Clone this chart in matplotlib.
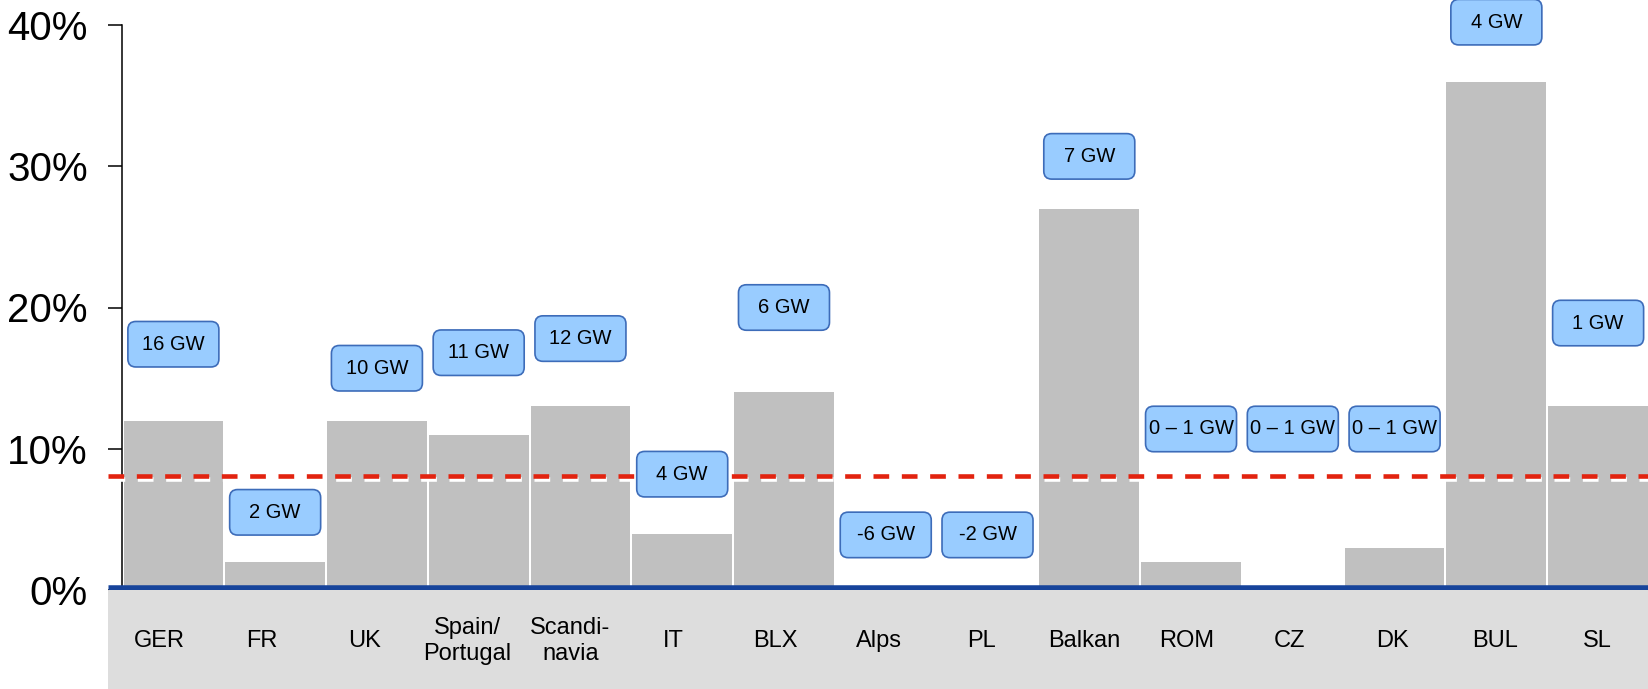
import numpy as np
import matplotlib
matplotlib.use("Agg")
import matplotlib.pyplot as plt
from matplotlib.patches import FancyBboxPatch, Rectangle
import matplotlib.patheffects as pe

plt.rcParams['font.family'] = ['Liberation Sans', 'DejaVu Sans']
plt.rcParams['lines.scale_dashes'] = False

# data
regions = ['GER', 'FR', 'UK', 'Spain/\nPortugal', 'Scandi-\nnavia', 'IT', 'BLX',
           'Alps', 'PL', 'Balkan', 'ROM', 'CZ', 'DK', 'BUL', 'SL']
share = [12, 2, 12, 11, 13, 4, 14, 0, 0, 27, 2, 0, 3, 36, 13]   # %
capacity = ['16 GW', '2 GW', '10 GW', '11 GW', '12 GW', '4 GW', '6 GW', '-6 GW',
            '-2 GW', '7 GW', '0 – 1 GW', '0 – 1 GW', '0 – 1 GW', '4 GW', '1 GW']
average = 8.1   # %

# where the capacity boxes sit (in % on the y scale)
box_y = [17.4, 5.5, 15.7, 16.8, 17.8, 8.2, 20.0, 3.9, 3.9, 30.7, 11.4, 11.4, 11.4, 40.2, 18.9]

W, H = 1649, 689
fig = plt.figure(figsize=(W / 100, H / 100), dpi=100)

ax_left, ax_bot, ax_top = 122.5, 590, 25          # pixels
ax = fig.add_axes([ax_left / W, (H - ax_bot) / H, 1 - ax_left / W, (ax_bot - ax_top) / H])
strip_left = 108
strip = fig.add_axes([strip_left / W, 0, 1 - strip_left / W, (H - ax_bot) / H])
strip.set_facecolor('#DDDDDD')
strip.set_xlim(-0.5, 14.5)
strip.set_ylim(0, 1)
strip.axis('off')
strip.add_patch(Rectangle((0, 0), 1, 1, transform=strip.transAxes, color='#DDDDDD', zorder=0))

x = np.arange(len(regions))
ax.bar(x, share, width=0.98, color='#C0C0C0', edgecolor='none', zorder=1)
ax.set_xlim(-0.5, 14.5)
ax.set_ylim(0, 40)

ax.spines[['top', 'right', 'bottom']].set_visible(False)
ax.spines['left'].set_linewidth(1.1)
ax.set_xticks([])
ax.set_yticks([0, 10, 20, 30, 40])
ax.set_yticklabels([f'{v}%' for v in [0, 10, 20, 30, 40]], fontsize=29)
ax.tick_params(axis='y', direction='out', length=10, width=1.1, pad=15)

# left end of the strip in data units of the main axes
px_per_x = (W - ax_left) / 15
x0 = -0.5 - (ax_left - strip_left) / px_per_x
px_per_y = (ax_bot - ax_top) / 40

# average line with a white shadow under the dashes
ax.plot([x0, 14.5], [average, average], color='#E2230F', lw=3.3, dashes=(11.3, 9.1),
        clip_on=False, zorder=3,
        path_effects=[pe.SimpleLineShadow(offset=(1, -2.2), shadow_color='white', alpha=1),
                      pe.Normal()])

# baseline
ax.plot([x0, 14.5], [2.5 / px_per_y] * 2, color='#17449B', lw=4.7, clip_on=False,
        solid_capstyle='butt', zorder=4)

# capacity boxes
bw = 91 / px_per_x
bh = 45.5 / px_per_y
r = 8 / px_per_x
for xi, yi, lab in zip(x, box_y, capacity):
    box = FancyBboxPatch((xi - bw / 2, yi - bh / 2), bw, bh,
                         boxstyle=f'round,pad=0,rounding_size={r}',
                         mutation_aspect=(8 / px_per_y) / r,
                         facecolor='#99CCFF', edgecolor='#3D6CB9', lw=1.2,
                         clip_on=False, zorder=5)
    ax.add_patch(box)
    ax.text(xi, yi, lab, ha='center', va='center', fontsize=14.5, zorder=6, clip_on=False)

# category labels, spread evenly across the strip
n = len(regions)
for i, lab in enumerate(regions):
    strip.text(-0.5 + (i + 0.5) * 15 / n, (H - 641) / (H - ax_bot), lab,
               ha='center', va='center', fontsize=17, linespacing=1.2)

fig.savefig('out.png', dpi=100)
